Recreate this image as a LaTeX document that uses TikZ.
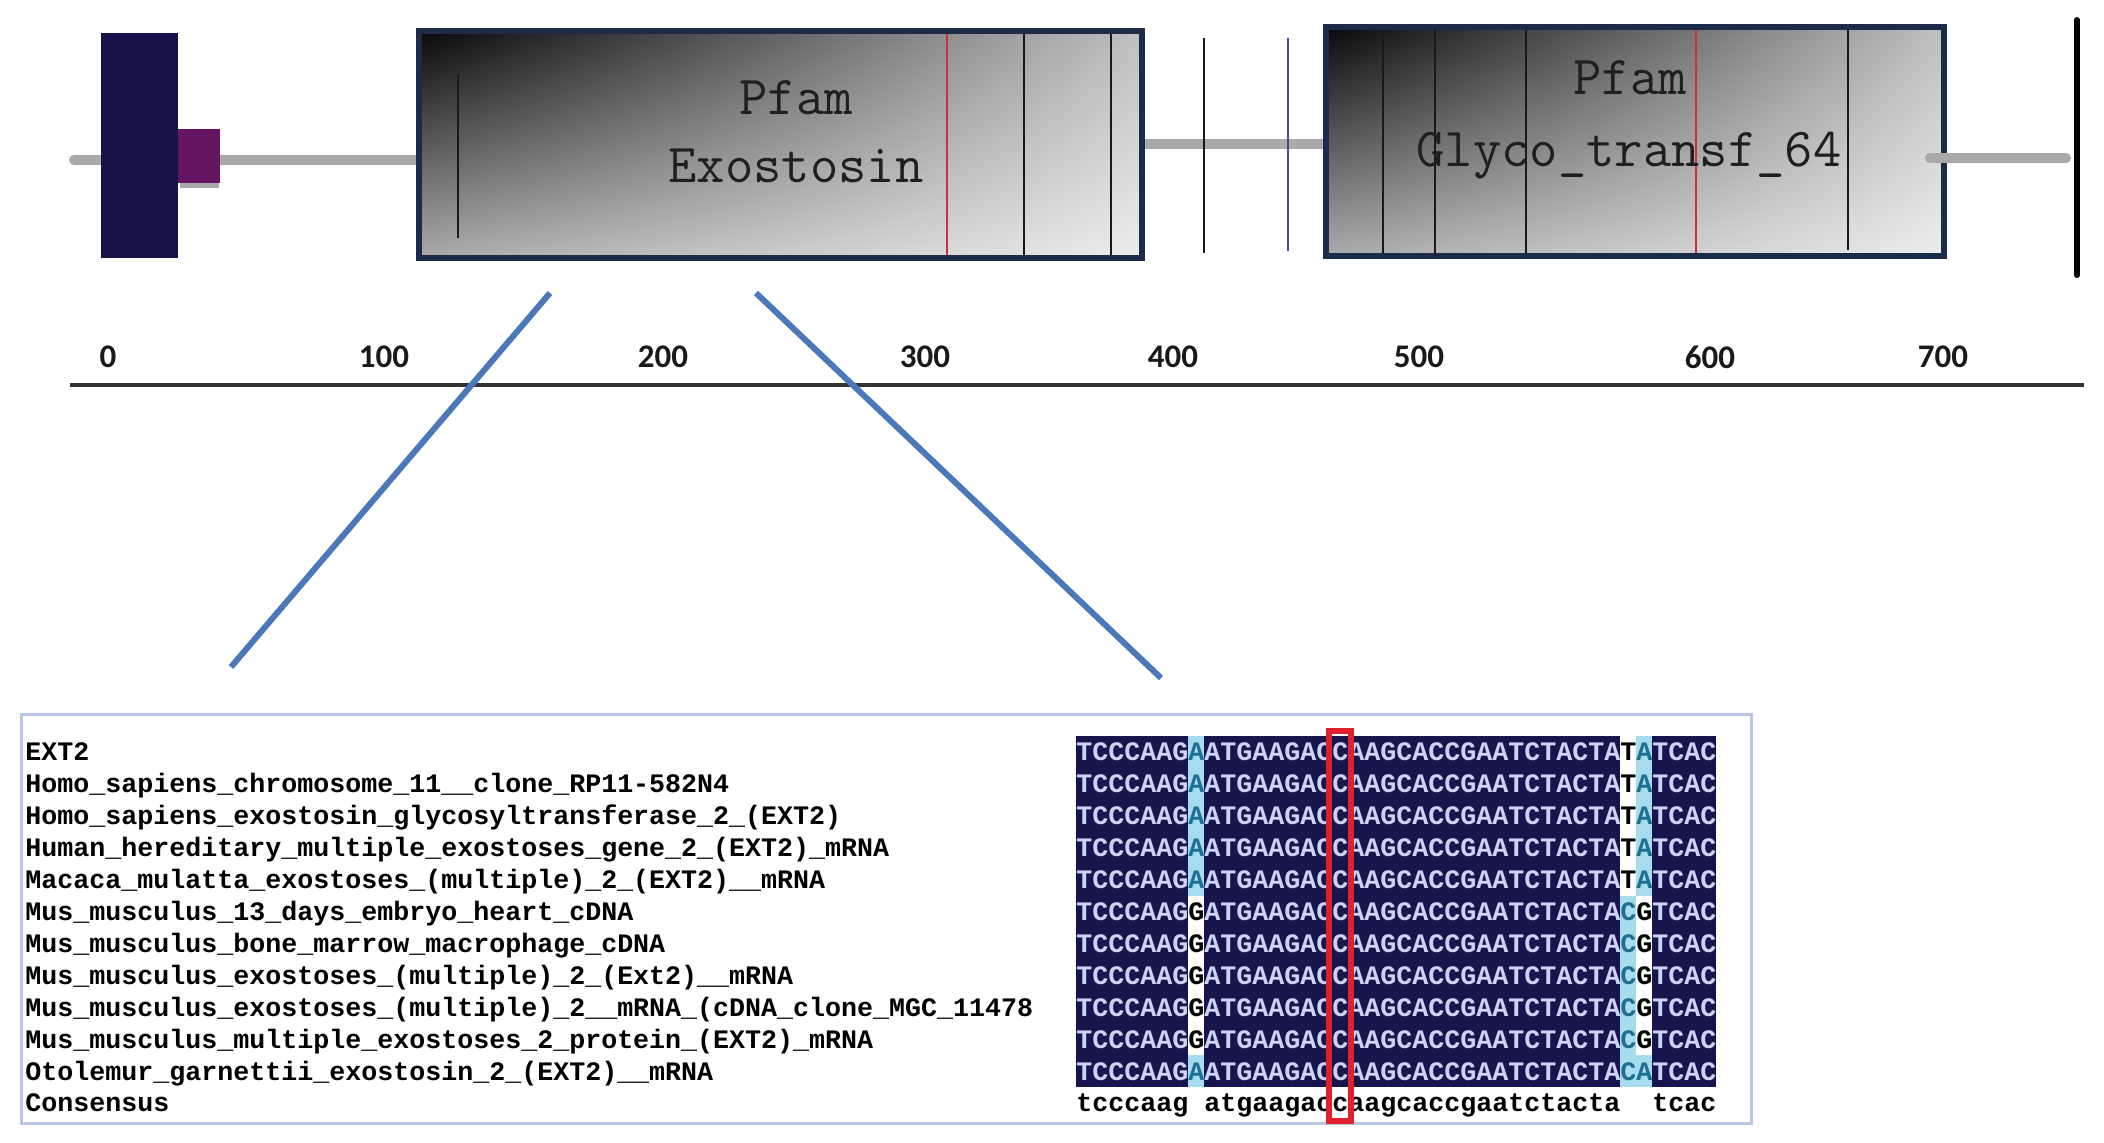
\documentclass[tikz,border=0pt]{standalone}
\usepackage{fontspec}
\usetikzlibrary{shadings}
\newfontfamily\seqfont{Liberation Mono}
\newfontfamily\axisfont{Carlito}
\definecolor{navy}{HTML}{16124A}
\definecolor{dompurple}{HTML}{661563}
\definecolor{linegrey}{HTML}{A9A9A9}
\definecolor{boxedge}{HTML}{1C2B4A}
\definecolor{zoomblue}{HTML}{4A78B8}
\definecolor{framelav}{HTML}{B7C5E6}
\definecolor{seqbg}{HTML}{16154D}
\definecolor{seqfg}{HTML}{CDD3F2}
\definecolor{lightcyan}{HTML}{A6DCEC}
\definecolor{oncyan}{HTML}{1F6E93}
\definecolor{markred}{HTML}{E0202C}
\definecolor{sitered}{HTML}{C8323A}
\definecolor{thinblue}{HTML}{4A4A9A}
\newcommand\seqline[6]{\textcolor{seqfg}{TCCCAAG}\textcolor{#1}{#2}\textcolor{seqfg}{ATGAAGACCAAGCACCGAATCTACTA}\textcolor{#3}{#4}\textcolor{#5}{#6}\textcolor{seqfg}{TCAC}}
\begin{document}
\begin{tikzpicture}[x=0.5pt,y=-0.5pt,
  greyline/.style={line width=5pt, draw=linegrey, line cap=round},
  siteline/.style={line width=1pt, draw=black!90},
  redsite/.style={line width=1.2pt, draw=sitered},
  pfambox/.style={shade, upper left=black!97, upper right=black!25, lower left=black!33, lower right=black!7,
     draw=boxedge, line width=3pt, inner sep=0, outer sep=0},
  pfamtxt/.style={font=\ttfamily\fontsize{27.5}{30}\selectfont, text=black!88, inner sep=0, anchor=base},
  axlbl/.style={font=\axisfont\bfseries\fontsize{16.5}{18}\selectfont, text=black!90, inner sep=0},
  zoomline/.style={line width=3pt, draw=zoomblue},
  nametxt/.style={font=\seqfont\bfseries\fontsize{13.33}{15}\selectfont, text=black, inner sep=0, anchor=base west},
  seqtxt/.style={font=\seqfont\bfseries\fontsize{13.33}{15}\selectfont, inner sep=0, anchor=base west}
]
\useasboundingbox (0,0) rectangle (2104,1143);

% ---- backbone (grey) ----
\coordinate (g1a) at (74,160);
\coordinate (g1b) at (419,160);
\draw[greyline] (g1a) -- (g1b);
\coordinate (g2a) at (1142,144);
\coordinate (g2b) at (1326,144);
\draw[greyline, line cap=butt] (g2a) -- (g2b);

% ---- small domains ----
\node[fill=navy, minimum width=38.5pt, minimum height=112.5pt, inner sep=0, outer sep=0] (tm) at (139.5,145.5) {};
\fill[linegrey] (180,182) rectangle (219,188);
\node[fill=dompurple, minimum width=21pt, minimum height=27pt, inner sep=0, outer sep=0] (pur) at (199,156) {};

% ---- Exostosin domain ----
\node[pfambox, minimum width=361.5pt, minimum height=113.5pt] (exo) at (780.5,144.5) {};
\draw[siteline] (458,74) -- (458,238);
\draw[redsite] (947,34) -- (947,255);
\draw[siteline] (1024,34) -- (1024,255);
\draw[siteline] (1111,34) -- (1111,255);
\node[pfamtxt] (exo1) at (796,115) {Pfam};
\node[pfamtxt] (exo2) at (796,183) {Exostosin};

% ---- thin site lines between domains ----
\draw[siteline] (1204,38) -- (1204,253);
\draw[line width=1pt, draw=thinblue] (1288,38) -- (1288,251);

% ---- Glyco_transf_64 domain ----
\node[pfambox, minimum width=309pt, minimum height=114.5pt] (gly) at (1635,141.5) {};
\draw[siteline] (1383,30) -- (1383,253);
\draw[siteline] (1435,30) -- (1435,256);
\draw[siteline] (1526,30) -- (1526,253);
\draw[redsite] (1696,30) -- (1696,253);
\draw[siteline] (1848,30) -- (1848,250);
\node[pfamtxt] (gly1) at (1630,95) {Pfam};
\node[pfamtxt] (gly2) at (1629,167) {Glyco\_transf\_64};

% right grey tail and end bar
\coordinate (g3a) at (1930,158);
\coordinate (g3b) at (2066,158);
\draw[greyline] (g3a) -- (g3b);
\coordinate (endt) at (2077,20);
\coordinate (endb) at (2077,275);
\draw[line width=3pt, line cap=round] (endt) -- (endb);

% ---- axis ----
\coordinate (ax1) at (70,385);
\coordinate (ax2) at (2084,385);
\draw[line width=1.6pt, draw=black!80] (ax1) -- (ax2);
\node[axlbl] (t0) at (108,357) {0};
\node[axlbl] (t1) at (384,357) {100};
\node[axlbl] (t2) at (663,357) {200};
\node[axlbl] (t3) at (925,357) {300};
\node[axlbl] (t4) at (1173,357) {400};
\node[axlbl] (t5) at (1419,357) {500};
\node[axlbl] (t6) at (1710,357) {600};
\node[axlbl] (t7) at (1943,357) {700};

% ---- zoom lines ----
\coordinate (za1) at (550,293);
\coordinate (za2) at (231,667);
\coordinate (zb1) at (756,293);
\coordinate (zb2) at (1161,678);
\draw[zoomline] (za1) -- (za2);
\draw[zoomline] (zb1) -- (zb2);

% ---- alignment panel ----
\draw[framelav, line width=1.5pt] (21,715) rectangle (1751,1123);
\fill[seqbg] (1076,736) rectangle (1716,1087);
% variable columns
\fill[lightcyan] (1188,736) rectangle (1204,895.5);
\fill[white] (1188,895.5) rectangle (1204,1055);
\fill[lightcyan] (1188,1055) rectangle (1204,1087);
\fill[white] (1620,736) rectangle (1636,895.5);
\fill[lightcyan] (1620,895.5) rectangle (1636,1087);
\fill[lightcyan] (1636,736) rectangle (1652,895.5);
\fill[white] (1636,895.5) rectangle (1652,1055);
\fill[lightcyan] (1636,1055) rectangle (1652,1087);

% names
\node[nametxt] (n1) at (25,761) {EXT2};
\node[nametxt] (n2) at (25,792.9) {Homo\_sapiens\_chromosome\_11\_\_clone\_RP11-582N4};
\node[nametxt] (n3) at (25,824.8) {Homo\_sapiens\_exostosin\_glycosyltransferase\_2\_(EXT2)};
\node[nametxt] (n4) at (25,856.7) {Human\_hereditary\_multiple\_exostoses\_gene\_2\_(EXT2)\_mRNA};
\node[nametxt] (n5) at (25,888.6) {Macaca\_mulatta\_exostoses\_(multiple)\_2\_(EXT2)\_\_mRNA};
\node[nametxt] (n6) at (25,920.5) {Mus\_musculus\_13\_days\_embryo\_heart\_cDNA};
\node[nametxt] (n7) at (25,952.4) {Mus\_musculus\_bone\_marrow\_macrophage\_cDNA};
\node[nametxt] (n8) at (25,984.3) {Mus\_musculus\_exostoses\_(multiple)\_2\_(Ext2)\_\_mRNA};
\node[nametxt] (n9) at (25,1016.2) {Mus\_musculus\_exostoses\_(multiple)\_2\_\_mRNA\_(cDNA\_clone\_MGC\_11478};
\node[nametxt] (n10) at (25,1048.1) {Mus\_musculus\_multiple\_exostoses\_2\_protein\_(EXT2)\_mRNA};
\node[nametxt] (n11) at (25,1080) {Otolemur\_garnettii\_exostosin\_2\_(EXT2)\_\_mRNA};
\node[nametxt] (n12) at (25,1111.9) {Consensus};

% sequences
\foreach \i in {1,...,5}{
  \node[seqtxt] (s\i) at (1076,{761+31.9*(\i-1)}) {\seqline{oncyan}{A}{black}{T}{oncyan}{A}};
}
\foreach \i in {6,...,10}{
  \node[seqtxt] (s\i) at (1076,{761+31.9*(\i-1)}) {\seqline{black}{G}{oncyan}{C}{black}{G}};
}
\node[seqtxt] (s11) at (1076,1080) {\seqline{oncyan}{A}{oncyan}{C}{oncyan}{A}};
\node[seqtxt, text=black] (s12) at (1076,1111.9) {tcccaag\phantom{x}atgaagaccaagcaccgaatctacta\phantom{xx}tcac};

% highlighted column
\draw[markred, line width=2.6pt] (1329,731) rectangle (1351,1121);
\end{tikzpicture}
\end{document}
